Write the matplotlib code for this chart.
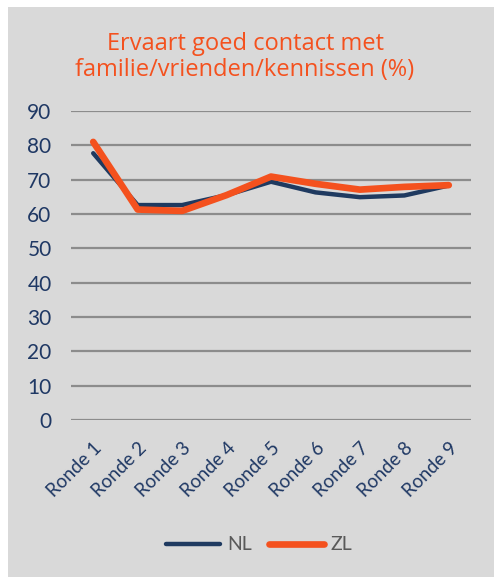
import matplotlib
matplotlib.use("Agg")
import matplotlib.pyplot as plt
from matplotlib.patches import Rectangle
from matplotlib.lines import Line2D

rondes = ["Ronde 1", "Ronde 2", "Ronde 3", "Ronde 4", "Ronde 5",
          "Ronde 6", "Ronde 7", "Ronde 8", "Ronde 9"]
nl = [77.7, 62.6, 62.6, 65.5, 69.4, 66.3, 64.9, 65.4, 68.3]
zl = [81.0, 61.3, 60.9, 65.5, 70.9, 68.8, 67.1, 67.9, 68.4]
yticks = list(range(0, 100, 10))

W, H = 494, 577
bg = "#d9d9d9"
navy = "#1f3864"
orange = "#f4511e"

fig = plt.figure(figsize=(W / 100, H / 100), dpi=100, facecolor="white")
fig.patches.append(Rectangle((8 / W, 0), 1, 1 - 7 / H, transform=fig.transFigure,
                             facecolor=bg, edgecolor="none", zorder=-10))

ax = fig.add_axes([71 / W, 1 - 420 / H, 400 / W, 309 / H])
ax.set_facecolor(bg)
x = list(range(len(rondes)))
ax.plot(x, nl, color="#1f3a60", lw=3.2, solid_capstyle="round", zorder=3)
ax.plot(x, zl, color=orange, lw=4.8, solid_capstyle="round", zorder=4)

ax.set_xlim(-0.5, len(rondes) - 0.5)
ax.set_ylim(0, 90)
ax.set_yticks(yticks)
ax.set_yticklabels([str(t) for t in yticks], fontsize=15, color=navy, family="Lato")
ax.set_xticks(x)
ax.set_xticklabels(rondes, rotation=45, ha="right", rotation_mode="anchor",
                   fontsize=13.5, color=navy, family="Lato")
ax.tick_params(axis="y", length=0, pad=14)
ax.tick_params(axis="x", length=0, pad=14)
ax.grid(axis="y", color="#8c8c8c", lw=1.6)
ax.set_axisbelow(True)
for s in ax.spines.values():
    s.set_visible(False)

fig.text(245 / W, 1 - 44 / H, "Ervaart goed contact met", ha="center", va="center",
         fontsize=17, color=orange, family="Open Sans")
fig.text(245 / W, 1 - 70 / H, "familie/vrienden/kennissen (%)", ha="center", va="center",
         fontsize=17, color=orange, family="Open Sans")

handles = [Line2D([], [], color="#1f3a60", lw=3.2, solid_capstyle="round"),
           Line2D([], [], color=orange, lw=4.8, solid_capstyle="round")]
leg = fig.legend(handles, ["NL", "ZL"], loc="center", bbox_to_anchor=(259 / W, 1 - 545 / H),
                 ncol=2, frameon=False, handlelength=2.8, handletextpad=0.35,
                 columnspacing=0.9, prop={"family": "Lato", "size": 14})
for t in leg.get_texts():
    t.set_color("#595959")

fig.savefig("out.png", dpi=100, facecolor="white")
